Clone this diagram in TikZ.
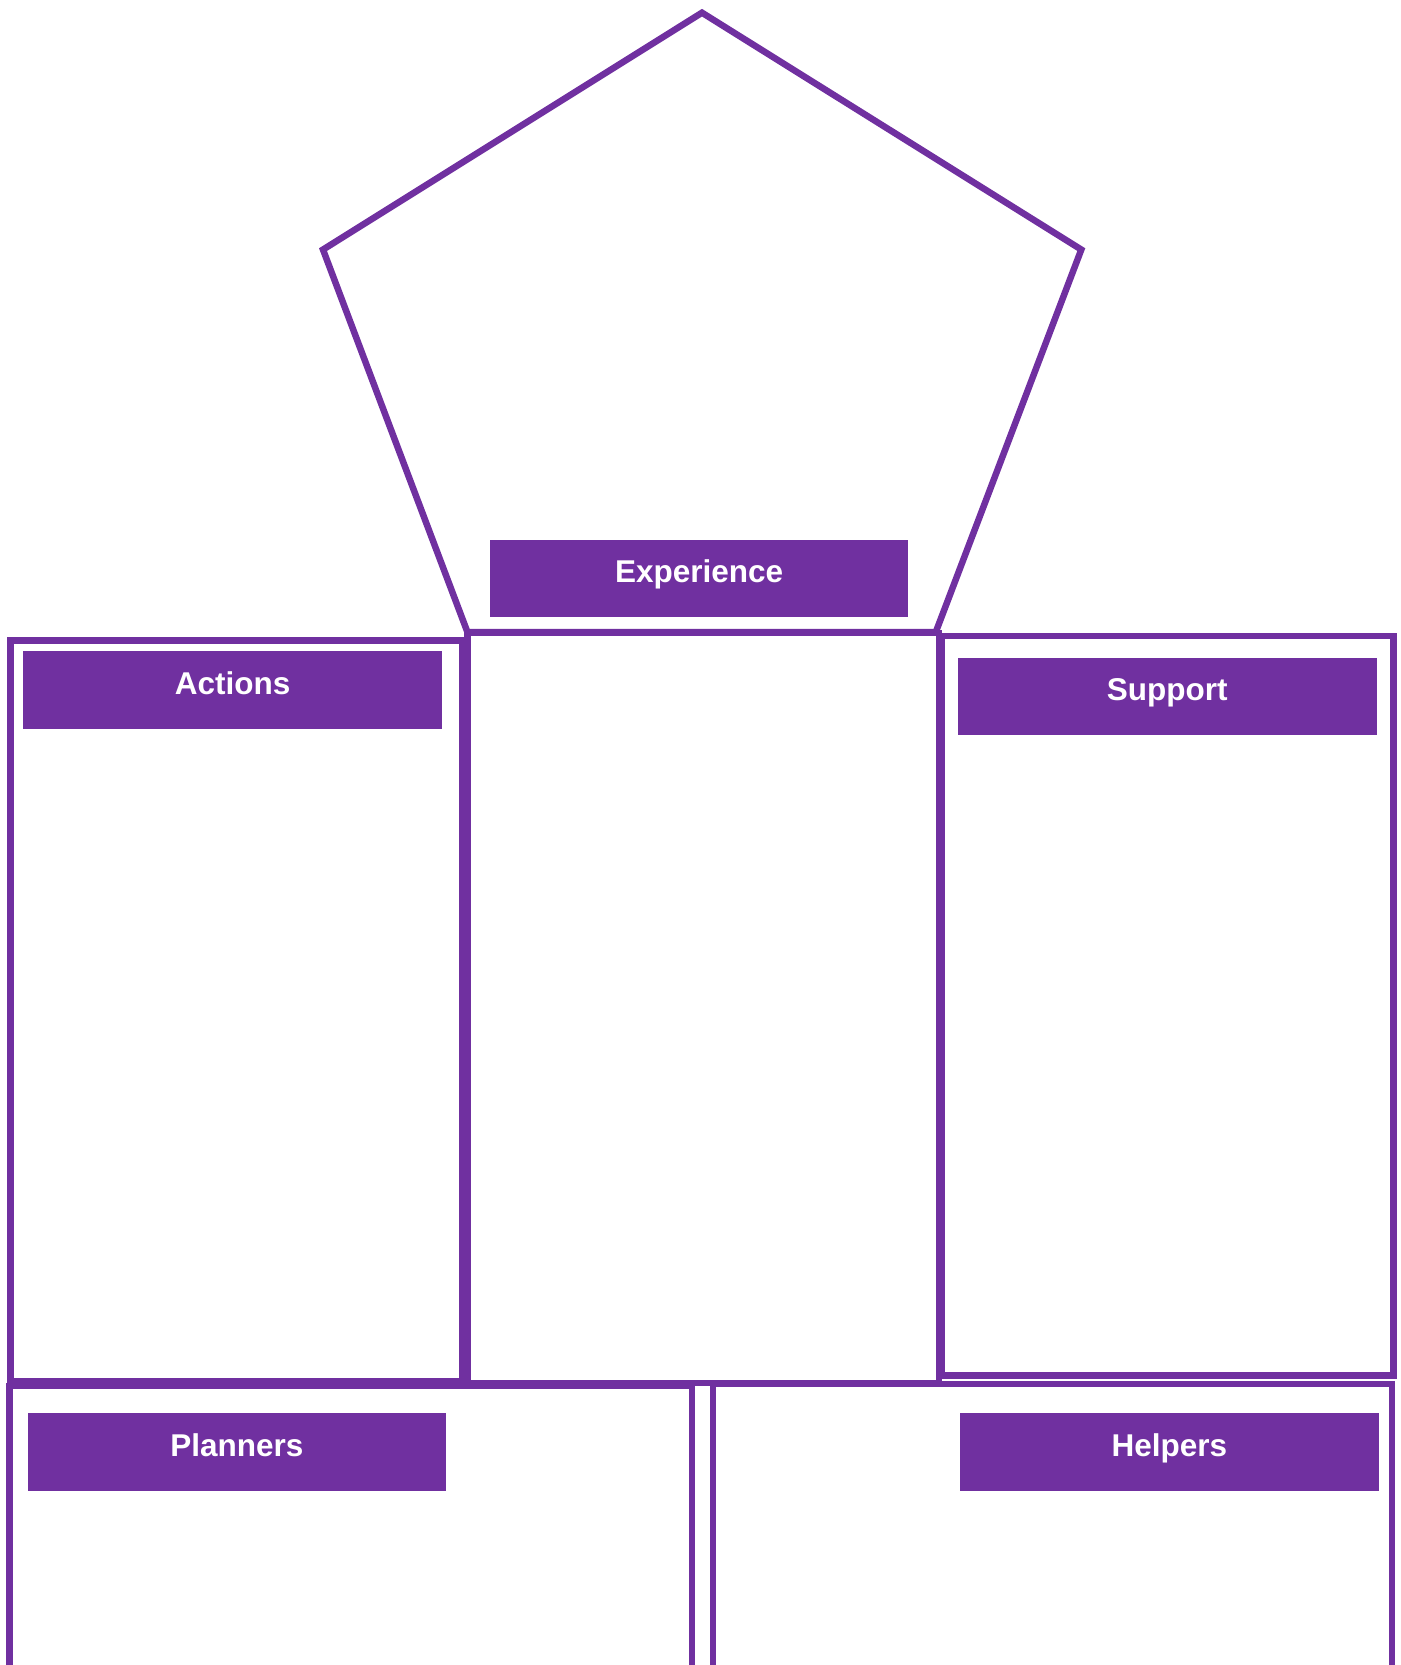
\documentclass[tikz,border=0pt]{standalone}
\usepackage{fontspec}
\setmainfont{Liberation Sans}
\definecolor{vio}{RGB}{112,48,160}
\begin{document}
\begin{tikzpicture}[x=1pt,y=-1pt,
  frame/.style={draw=vio,line width=6.5pt,line join=miter},
  tag/.style={fill=vio,text=white,minimum width=418.5pt,minimum height=77.5pt,inner sep=0pt,
    text height=20pt,text depth=11.5pt,font=\fontsize{31.5}{36}\selectfont\bfseries}]
\useasboundingbox (0,0) rectangle (1400,1665);
\clip (0,0) rectangle (1400,1665);
% pentagon
\draw[frame] (702,12.7) -- (1081.3,249.6) -- (935.8,632) -- (467.4,632) -- (323,249.6) -- cycle;
% side and centre panels
\draw[frame] (10.6,640.5) rectangle (462,1381);
\draw[frame] (467.4,633) rectangle (939,1383);
\draw[frame] (942,636) rectangle (1393.6,1375.5);
% lower panels
\draw[frame] (9.6,1680) -- (9.6,1386) -- (692,1386) -- (692,1680);
\draw[frame] (713,1680) -- (713,1384) -- (1392,1384) -- (1392,1680);
% labels
\node[tag] (exp) at (699.2,578.4) {Experience};
\node[tag] (act) at (232.6,689.8) {Actions};
\node[tag] (sup) at (1167.3,696.3) {Support};
\node[tag] (pla) at (236.8,1451.8) {Planners};
\node[tag] (hel) at (1169.4,1451.8) {Helpers};
\end{tikzpicture}
\end{document}
